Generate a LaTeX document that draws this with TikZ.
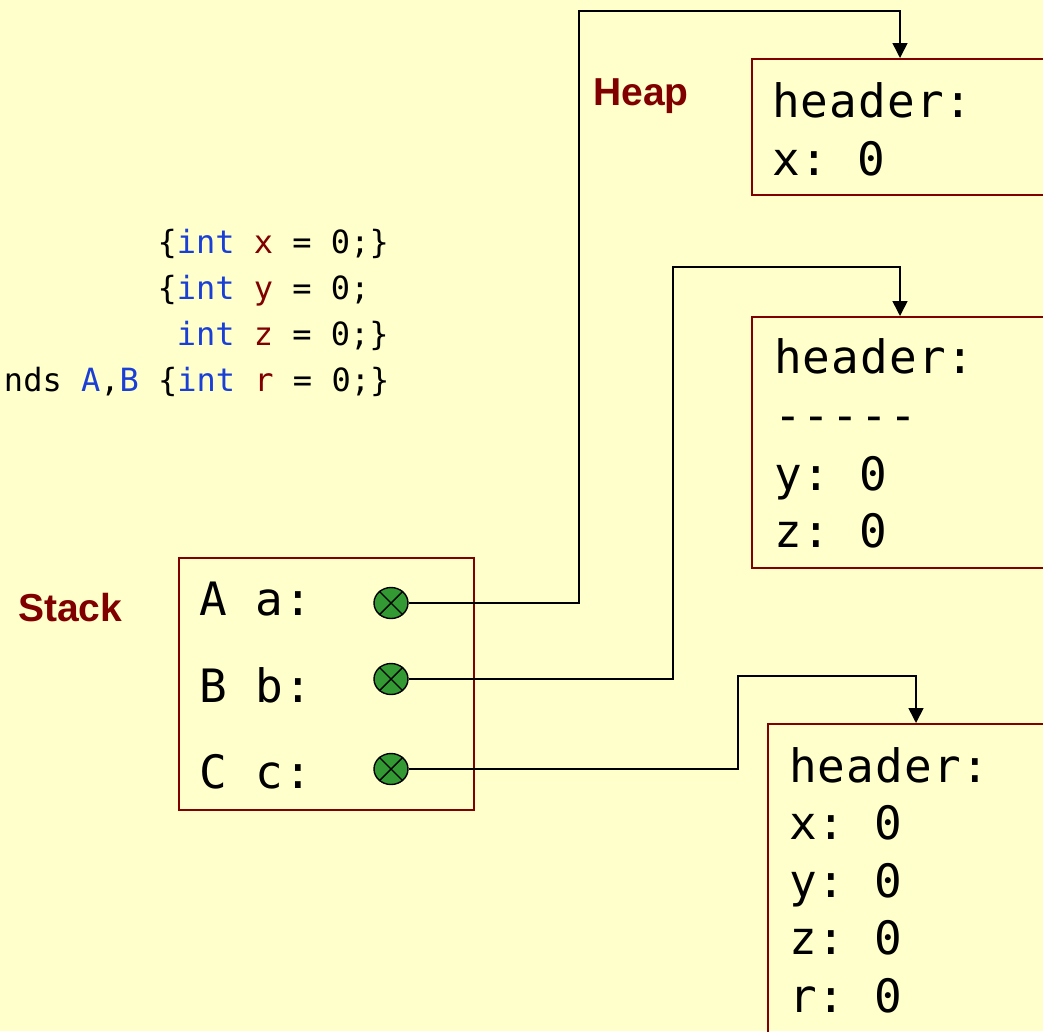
\documentclass[tikz,border=0pt]{standalone}
\usepackage{fontspec}
\usetikzlibrary{arrows.meta,shapes.geometric}
\newfontfamily\monof{DejaVu Sans Mono}
\newfontfamily\monowide[LetterSpace=2.4]{DejaVu Sans Mono}
\newfontfamily\labf{Liberation Sans}
\definecolor{bgc}{HTML}{FFFFCC}
\definecolor{dred}{HTML}{800000}
\definecolor{kwblue}{HTML}{1A3FD6}
\definecolor{ptrgreen}{HTML}{339933}
\newcommand{\kw}[1]{\textcolor{kwblue}{#1}}
\newcommand{\vr}[1]{\textcolor{dred}{#1}}
\frenchspacing
\begin{document}
\begin{tikzpicture}[x=1pt,y=-1pt,
  membox/.style={draw=dred,line width=1.8pt,rectangle,anchor=north west,inner sep=0pt},
  memtext/.style={anchor=base west,inner sep=0pt,font=\monowide\fontsize{46}{46}\selectfont\frenchspacing},
  codetext/.style={anchor=base west,inner sep=0pt,font=\monof\fontsize{32}{32}\selectfont\frenchspacing},
  areatitle/.style={anchor=base west,inner sep=0pt,text=dred,font=\labf\bfseries\fontsize{39}{39}\selectfont},
  ptr/.style={draw=black,line width=1.4pt,fill=ptrgreen,ellipse,minimum width=34pt,minimum height=31pt,inner sep=0pt},
  cross/.style={line width=1.4pt},
  conn/.style={line width=1.6pt,-{Triangle[width=15pt,length=15pt]}}
]
\useasboundingbox (0,0) rectangle (1043,1031);
\fill[bgc] (0,0) rectangle (1043,1031);

% code
\node[codetext] (c1) at (157.4,253) {\{\kw{int} \vr{x} = 0;\}};
\node[codetext] (c2) at (157.4,299) {\{\kw{int} \vr{y} = 0;};
\node[codetext] (c3) at (176.6,345) {\kw{int} \vr{z} = 0;\}};
\node[codetext] (c4) at (3.8,391) {nds \kw{A},\kw{B} \{\kw{int} \vr{r} = 0;\}};

% titles
\node[areatitle] (heap) at (593,105) {Heap};
\node[areatitle] (stack) at (18,621) {Stack};

% stack
\node[membox,minimum width=295pt,minimum height=252pt] (st) at (178,557) {};
\node[memtext] (sa) at (199,615) {A a:};
\node[memtext] (sb) at (199,702) {B b:};
\node[memtext] (sc) at (199,788) {C c:};
\foreach \n/\yy in {pa/603,pb/679,pc/769}{
  \node[ptr] (\n) at (391,\yy) {};
  \draw[cross] (\n.45) -- (\n.225) (\n.135) -- (\n.315);
}

% heap boxes
\node[membox,minimum width=330pt,minimum height=136pt] (h1) at (751,58) {};
\node[memtext] (h1a) at (772,117) {header:};
\node[memtext] (h1b) at (772,175) {x: 0};

\node[membox,minimum width=330pt,minimum height=251pt] (h2) at (751,316) {};
\node[memtext] (h2a) at (774,373) {header:};
\node[memtext] (h2b) at (774,431) {-{}-{}-{}-{}-};
\node[memtext] (h2c) at (774,490) {y: 0};
\node[memtext] (h2d) at (774,547) {z: 0};

\node[membox,minimum width=330pt,minimum height=340pt] (h3) at (767,723) {};
\node[memtext] (h3a) at (789,782) {header:};
\node[memtext] (h3b) at (789,839) {x: 0};
\node[memtext] (h3c) at (789,897) {y: 0};
\node[memtext] (h3d) at (789,954) {z: 0};
\node[memtext] (h3e) at (789,1012) {r: 0};

% connectors
\draw[conn] (pa.east) -- (579,603) |- (900,11) -- (900,0 |- h1.north);
\draw[conn] (pb.east) -- (673,679) |- (900,267) -- (900,0 |- h2.north);
\draw[conn] (pc.east) -- (738,769) |- (916,676) -- (916,0 |- h3.north);
\end{tikzpicture}
\end{document}
